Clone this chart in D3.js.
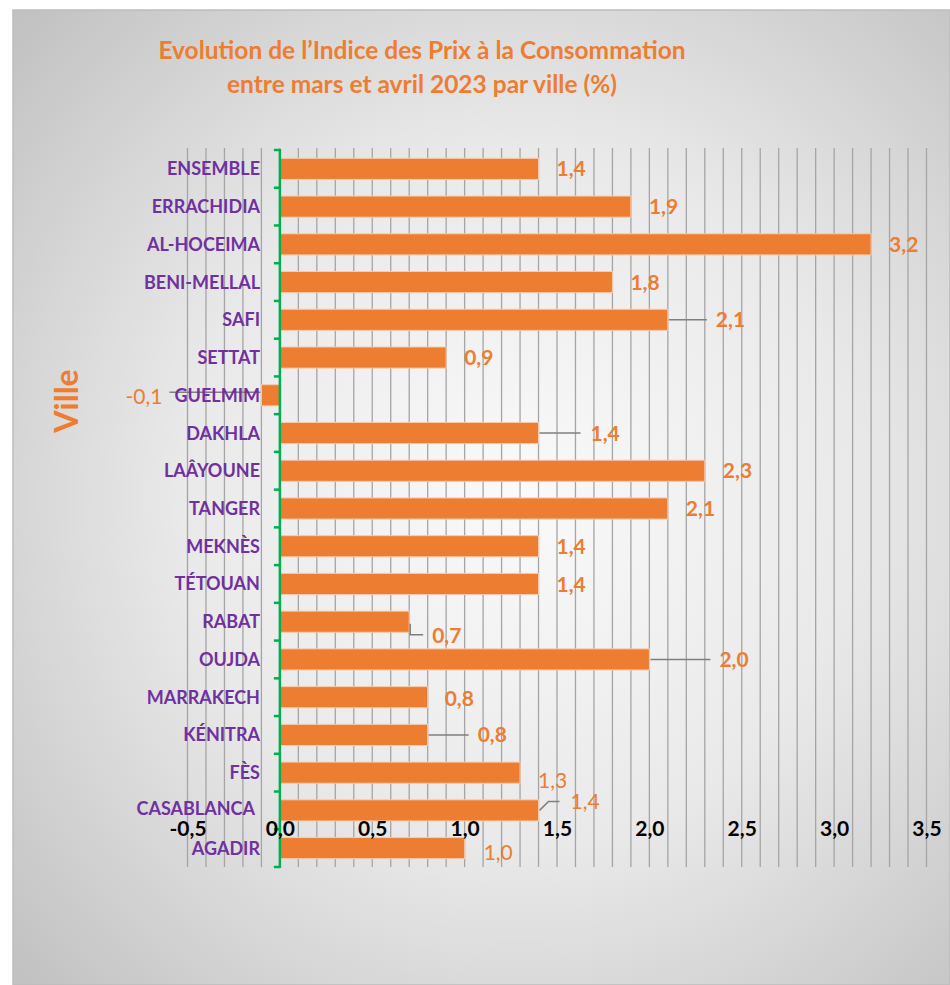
<!DOCTYPE html>
<html><head><meta charset="utf-8">
<script src="https://cdn.jsdelivr.net/npm/d3@7"></script>
<style>body{margin:0;background:#fff} svg{display:block}</style>
</head><body>
<svg id="c" width="950" height="985"></svg>
<script>
// ---------- DATA ----------
const cities = ["ENSEMBLE","ERRACHIDIA","AL-HOCEIMA","BENI-MELLAL","SAFI","SETTAT","GUELMIM","DAKHLA","LAÂYOUNE","TANGER","MEKNÈS","TÉTOUAN","RABAT","OUJDA","MARRAKECH","KÉNITRA","FÈS","CASABLANCA","AGADIR"];
const values = [1.4,1.9,3.2,1.8,2.1,0.9,-0.1,1.4,2.3,2.1,1.4,1.4,0.7,2.0,0.8,0.8,1.3,1.4,1.0];
const xTicks = [-0.5,0,0.5,1,1.5,2,2.5,3,3.5];
const titleLines = ["Evolution de l’Indice des Prix à la Consommation","entre mars et avril 2023 par ville (%)"];
const axisTitle = "Ville";

// ---------- LAYOUT (label placement, relative to bar end / band centre) ----------
const labelLayout = {
  "SAFI":{dx:48, leader:[[1,0],[39,0]]},
  "GUELMIM":{dx:-99, dy:1, anchor:"end", weight:400, leader:[[-1,-3],[-92,-3]]},
  "DAKHLA":{dx:52, leader:[[1,0],[42,0]]},
  "RABAT":{dx:23, dy:14, leader:[[1,2],[1,13],[14,13]]},
  "OUJDA":{dx:70, leader:[[1,0],[61,0]]},
  "MARRAKECH":{dx:17, dy:1},
  "KÉNITRA":{dx:50, leader:[[1,0],[41,0]]},
  "FÈS":{dx:18, dy:8, weight:400},
  "CASABLANCA":{dx:32, dy:-9, weight:400, leader:[[1,0],[10,-9],[21,-9]]},
  "AGADIR":{dx:19, dy:4, weight:400}
};
const catShift = {"CASABLANCA":[-5,-2]};

const W = 950, H = 985;
const FONT = "Lato, 'Open Sans', sans-serif";
const ORANGE = "#ED7D31", PURPLE = "#7030A0", GREEN = "#00B050";

const svg = d3.select("#c");
const defs = svg.append("defs");
const grad = defs.append("radialGradient").attr("id","bg")
  .attr("cx","54%").attr("cy","50%").attr("r","72%");
grad.append("stop").attr("offset","0%").attr("stop-color","#fafafa");
grad.append("stop").attr("offset","50%").attr("stop-color","#e9e9e9");
grad.append("stop").attr("offset","100%").attr("stop-color","#c2c2c2");

svg.append("rect").attr("x",13).attr("y",10).attr("width",W-13).attr("height",H-10)
  .attr("fill","url(#bg)").attr("stroke","#bdbdbd").attr("stroke-width",1.5);

const x = d3.scaleLinear().domain([-0.5,3.5]).range([187.5,926.5]);
const y = d3.scaleBand().domain(cities).range([150,867]).paddingInner(0.44).paddingOuter(0.22);
const step = y.step();
const top0 = 150;

// gridlines every 0.1
const grid = x.ticks(40);
svg.append("g").selectAll("line").data(grid).join("line")
  .attr("x1",d=>x(d)).attr("x2",d=>x(d)).attr("y1",148).attr("y2",867)
  .attr("stroke","#a5a5a5").attr("stroke-width",1.3);

// bars
const data = cities.map((c,i)=>({city:c, value:values[i]}));
svg.append("g").selectAll("rect").data(data).join("rect")
  .attr("x",d=>x(Math.min(0,d.value))).attr("width",d=>Math.abs(x(d.value)-x(0)))
  .attr("y",d=>y(d.city)).attr("height",y.bandwidth())
  .attr("fill",ORANGE).attr("stroke","#F8CBAD").attr("stroke-width",1);

// leader lines
const line = d3.line();
svg.append("g").selectAll("path").data(data.filter(d=>labelLayout[d.city] && labelLayout[d.city].leader)).join("path")
  .attr("d",d=>{
    const bx = x(d.value), cy = y(d.city)+y.bandwidth()/2;
    return line(labelLayout[d.city].leader.map(p=>[bx+p[0], cy+p[1]]));
  })
  .attr("fill","none").attr("stroke","#7f7f7f").attr("stroke-width",1.5);

// green y-axis
const gy = svg.append("g");
gy.append("line").attr("x1",x(0)).attr("x2",x(0)).attr("y1",top0-1).attr("y2",867+1)
  .attr("stroke",GREEN).attr("stroke-width",2.5);
gy.selectAll("line.t").data(d3.range(cities.length+1)).join("line").attr("class","t")
  .attr("x1",x(0)-6).attr("x2",x(0)).attr("y1",i=>top0+i*step).attr("y2",i=>top0+i*step)
  .attr("stroke",GREEN).attr("stroke-width",2.5);

// category labels
svg.append("g").selectAll("text").data(cities).join("text")
  .attr("x",c=>260+(catShift[c]?catShift[c][0]:0))
  .attr("y",c=>y(c)+y.bandwidth()/2+(catShift[c]?catShift[c][1]:0)).attr("dy","0.36em")
  .attr("text-anchor","end").attr("font-family",FONT).attr("font-weight",700)
  .attr("font-size",18).attr("fill",PURPLE).text(c=>c);

// x tick labels (placed mid-plot as in the original)
const xAxis = d3.axisBottom(x).tickValues(xTicks).tickSize(0)
  .tickFormat(v=>v.toFixed(1).replace(".",","));
const gx = svg.append("g").attr("transform","translate(0,818)").call(xAxis);
gx.select(".domain").remove();
gx.selectAll("text").attr("font-family",FONT).attr("font-weight",700)
  .attr("font-size",21).attr("fill","#000");

// data labels
svg.append("g").selectAll("text").data(data).join("text")
  .attr("x",d=>{const L=labelLayout[d.city]||{}; return x(d.value)+(L.dx!==undefined?L.dx:18);})
  .attr("y",d=>{const L=labelLayout[d.city]||{}; return y(d.city)+y.bandwidth()/2+(L.dy||0);})
  .attr("dy","0.36em")
  .attr("text-anchor",d=>(labelLayout[d.city]||{}).anchor||"start")
  .attr("font-family",FONT).attr("font-size",21)
  .attr("font-weight",d=>(labelLayout[d.city]||{}).weight||700)
  .attr("fill",ORANGE)
  .text(d=>d.value.toFixed(1).replace(".",","));

// title
svg.append("g").selectAll("text").data(titleLines).join("text")
  .attr("x",422).attr("y",(d,i)=>59+i*34).attr("text-anchor","middle")
  .attr("font-family",FONT).attr("font-weight",700).attr("font-size",24.5).attr("fill",ORANGE)
  .text(d=>d);

// axis title
svg.append("text").attr("transform","translate(78,401) rotate(-90)")
  .attr("text-anchor","middle").attr("font-family",FONT).attr("font-weight",700)
  .attr("font-size",32).attr("fill",ORANGE).text(axisTitle);
</script>
</body></html>
